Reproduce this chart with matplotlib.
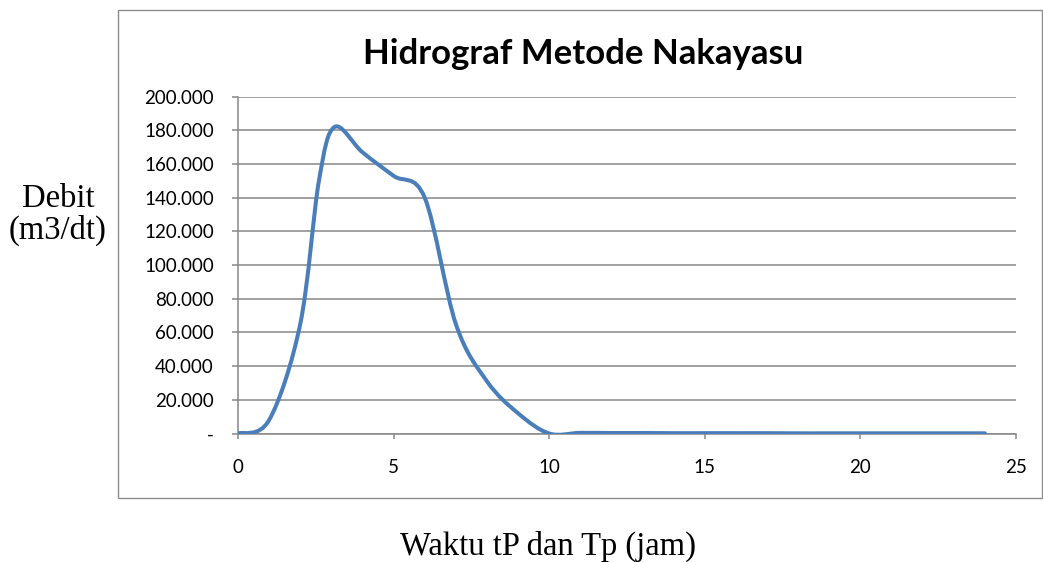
import matplotlib
matplotlib.use("Agg")
import matplotlib.pyplot as plt
from matplotlib.path import Path
from matplotlib.patches import PathPatch, Rectangle
import numpy as np

# hydrograph points (t in jam, Q in m3/dt)
t = [0, 1, 2, 2.6, 3.1, 4, 5, 6, 7, 8, 9, 10, 11, 12, 13, 14, 15, 16, 17, 18,
     19, 20, 21, 22, 23, 24]
q = [0, 8, 65, 150, 182, 167, 153, 140, 65, 31, 12, 0, 0.4, 0.3, 0.3, 0.2,
     0.2, 0.2, 0.2, 0.1, 0.1, 0.1, 0.1, 0.1, 0.1, 0.1]

y_ticks = [0, 20, 40, 60, 80, 100, 120, 140, 160, 180, 200]
y_labels = ["-", "20.000", "40.000", "60.000", "80.000", "100.000",
            "120.000", "140.000", "160.000", "180.000", "200.000"]
x_ticks = [0, 5, 10, 15, 20, 25]

title = "Hidrograf Metode Nakayasu"
xlabel = "Waktu tP dan Tp (jam)"
ylabel = "Debit\n(m3/dt)"

line_col = "#4A7EBB"
grid_col = "#888888"


def smooth_path(xs, ys):
    # excel style smoothed line: cubic bezier through each point
    pts = np.column_stack([xs, ys]).astype(float)
    n = len(pts)
    verts = [pts[0]]
    codes = [Path.MOVETO]
    for i in range(n - 1):
        p0 = pts[i - 1] if i > 0 else pts[i]
        p1 = pts[i]
        p2 = pts[i + 1]
        p3 = pts[i + 2] if i + 2 < n else pts[i + 1]
        c1 = p1 + (p2 - p0) / 6.0
        c2 = p2 - (p3 - p1) / 6.0
        verts += [c1, c2, p2]
        codes += [Path.CURVE4] * 3
    return Path(verts, codes)


fig = plt.figure(figsize=(10.43, 5.62), dpi=100)
W, H = 1043, 562

# outer chart box
fig.patches.append(Rectangle((118 / W, 1 - 498 / H), (1042 - 118) / W, (498 - 10) / H,
                             transform=fig.transFigure, fill=False,
                             edgecolor="#8c8c8c", lw=1.0))

ax = fig.add_axes([238 / W, 1 - 433.5 / H, (1016 - 238) / W, (433.5 - 96.7) / H])
ax.set_xlim(0, 25)
ax.set_ylim(0, 200)

ax.add_patch(PathPatch(smooth_path(t, q), fill=False, edgecolor=line_col,
                       lw=2.9, capstyle="round", joinstyle="round", zorder=3))

ax.set_yticks(y_ticks)
ax.set_yticklabels(y_labels)
ax.set_xticks(x_ticks)
ax.yaxis.grid(True, color=grid_col, lw=1.1)
ax.set_axisbelow(True)

for s in ["top", "right"]:
    ax.spines[s].set_visible(False)
for s in ["left", "bottom"]:
    ax.spines[s].set_color(grid_col)
    ax.spines[s].set_linewidth(1.1)

ax.tick_params(axis="both", colors=grid_col, width=1.1,
               labelcolor="black", labelsize=13.5)
ax.tick_params(axis="y", length=4.3, pad=13)
ax.tick_params(axis="x", length=3.6, pad=14.5)
for lab in ax.get_xticklabels() + ax.get_yticklabels():
    lab.set_family("Lato")

fig.text(583 / W, 1 - 54 / H, title, ha="center", va="center",
         fontsize=25, fontweight="bold", family="Lato")
fig.text(548 / W, 1 - 546 / H, xlabel, ha="center", va="center",
         fontsize=23.5, family="Liberation Serif")
fig.text(58 / W, 1 - 215 / H, ylabel, ha="center", va="center",
         fontsize=23.5, family="Liberation Serif", linespacing=1.05)

fig.savefig("out.png", dpi=100)
